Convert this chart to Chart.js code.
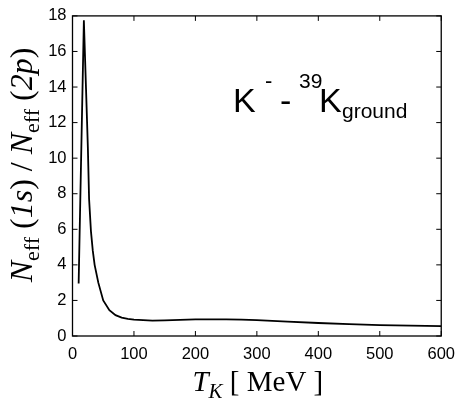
<!DOCTYPE html>
<html>
<head>
<meta charset="utf-8">
<script src="https://cdn.jsdelivr.net/npm/chart.js@4/dist/chart.umd.min.js"></script>
<style>
  html, body { margin: 0; padding: 0; background: #fff; }
  #wrap { width: 464px; height: 402px; }
</style>
</head>
<body>
<div id="wrap"><canvas id="ratioChart" width="464" height="402"></canvas></div>
<script>
// kaon kinetic energy T_K [MeV]
const tK = [10, 18.5, 22, 25, 27, 30, 33, 36, 42, 50, 60, 70, 80, 90, 100, 115, 130, 150, 175, 200, 225, 250, 275, 300, 350, 400, 450, 500, 550, 600];
// N_eff(1s) / N_eff(2p)
const ratio = [2.95, 17.75, 13.9, 10.6, 7.7, 5.9, 4.8, 4.0, 3.0, 2.0, 1.45, 1.17, 1.03, 0.96, 0.92, 0.89, 0.87, 0.88, 0.91, 0.93, 0.94, 0.94, 0.92, 0.89, 0.81, 0.73, 0.67, 0.61, 0.58, 0.56];
const xTicks = [0, 100, 200, 300, 400, 500, 600];
const yTicks = [0, 2, 4, 6, 8, 10, 12, 14, 16, 18];

const points = tK.map((t, i) => ({ x: t, y: ratio[i] }));
const sans = "'Liberation Sans', Arial, Helvetica, sans-serif";
const serif = "'Liberation Serif', 'Times New Roman', serif";

// frame, inward ticks, axis titles and annotation
const decor = {
  id: 'decor',
  afterDraw(chart) {
    const ctx = chart.ctx;
    const a = chart.chartArea;
    const xs = chart.scales.x, ys = chart.scales.y;
    ctx.save();
    ctx.strokeStyle = '#000';
    ctx.lineWidth = 1.3;
    ctx.strokeRect(a.left, a.top, a.right - a.left, a.bottom - a.top);
    ctx.beginPath();
    const L = 5;
    xTicks.forEach(v => {
      const px = xs.getPixelForValue(v);
      ctx.moveTo(px, a.bottom); ctx.lineTo(px, a.bottom - L);
      ctx.moveTo(px, a.top); ctx.lineTo(px, a.top + L);
    });
    yTicks.forEach(v => {
      const py = ys.getPixelForValue(v);
      ctx.moveTo(a.left, py); ctx.lineTo(a.left + L, py);
      ctx.moveTo(a.right, py); ctx.lineTo(a.right - L, py);
    });
    ctx.lineWidth = 1;
    ctx.stroke();

    ctx.fillStyle = '#000';
    ctx.textBaseline = 'alphabetic';

    // x title: T_K [ MeV ]
    const xParts = [
      { t: 'T', f: 'italic 29px ' + serif, dy: 0 },
      { t: 'K', f: 'italic 21px ' + serif, dy: 7 },
      { t: ' [ MeV ]', f: '29px ' + serif, dy: 0 }
    ];
    drawParts(ctx, xParts, (a.left + a.right) / 2 + 1, 391);

    // y title (rotated)
    ctx.save();
    ctx.translate(32, (a.top + a.bottom) / 2 - 11);
    ctx.rotate(-Math.PI / 2);
    const yParts = [
      { t: 'N', f: 'italic 32px ' + serif, dy: 0 },
      { t: 'eff', f: '22px ' + serif, dy: 7 },
      { t: ' (', f: '32px ' + serif, dy: 0 },
      { t: '1s', f: 'italic 32px ' + serif, dy: 0 },
      { t: ') / ', f: '32px ' + serif, dy: 0 },
      { t: 'N', f: 'italic 32px ' + serif, dy: 0 },
      { t: 'eff', f: '22px ' + serif, dy: 7 },
      { t: ' (', f: '32px ' + serif, dy: 0 },
      { t: '2p', f: 'italic 32px ' + serif, dy: 0 },
      { t: ')', f: '32px ' + serif, dy: 0 }
    ];
    drawParts(ctx, yParts, 0, 0);
    ctx.restore();

    // annotation K- - 39K_ground
    ctx.textAlign = 'left';
    ctx.font = '34px ' + sans;
    ctx.fillText('K', 233, 112);
    ctx.font = '22px ' + sans;
    ctx.fillText('-', 265, 88);
    ctx.font = '34px ' + sans;
    ctx.fillText('-', 280, 112);
    ctx.font = '21px ' + sans;
    ctx.fillText('39', 299, 88);
    ctx.font = '34px ' + sans;
    ctx.fillText('K', 319, 112);
    ctx.font = '21px ' + sans;
    ctx.fillText('ground', 342, 118);
    ctx.restore();
  }
};

function drawParts(ctx, parts, cx, base) {
  let w = 0;
  parts.forEach(p => { ctx.font = p.f; p.w = ctx.measureText(p.t).width; w += p.w; });
  let x = cx - w / 2;
  ctx.textAlign = 'left';
  parts.forEach(p => {
    ctx.font = p.f;
    ctx.fillText(p.t, x, base + p.dy);
    x += p.w;
  });
}

const ctx = document.getElementById('ratioChart').getContext('2d');
new Chart(ctx, {
  type: 'line',
  data: {
    datasets: [{
      data: points,
      borderColor: '#000',
      borderWidth: 1.8,
      pointRadius: 0,
      tension: 0,
      fill: false
    }]
  },
  options: {
    responsive: false,
    animation: false,
    events: [],
    layout: { padding: { left: 0, top: 13.5, right: 18, bottom: 0 } },
    plugins: { legend: { display: false }, tooltip: { enabled: false } },
    scales: {
      x: {
        type: 'linear',
        min: 0, max: 600,
        grid: { display: false, drawTicks: false },
        border: { display: false },
        afterFit: s => { s.height = 66; },
        afterBuildTicks: s => { s.ticks = xTicks.map(v => ({ value: v })); },
        ticks: { color: '#000', padding: 9, maxRotation: 0, font: { family: sans, size: 16.5 } }
      },
      y: {
        type: 'linear',
        min: 0, max: 18,
        grid: { display: false, drawTicks: false },
        border: { display: false },
        afterFit: s => { s.width = 72.5; },
        afterBuildTicks: s => { s.ticks = yTicks.map(v => ({ value: v })); },
        ticks: { color: '#000', padding: 6, font: { family: sans, size: 16.5 } }
      }
    }
  },
  plugins: [decor]
});
</script>
</body>
</html>
